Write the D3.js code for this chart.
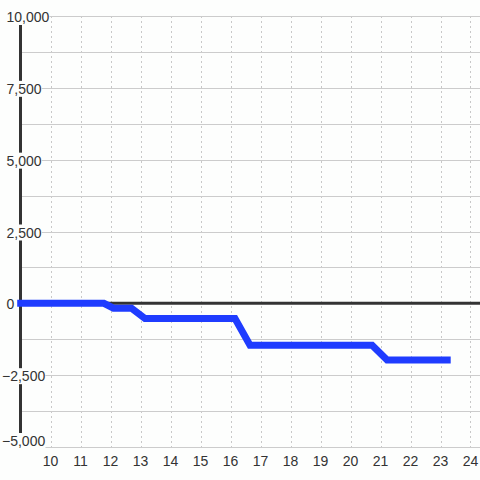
<!DOCTYPE html>
<html>
<head>
<meta charset="utf-8">
<script src="https://cdn.jsdelivr.net/npm/d3@7"></script>
<style>
  html, body { margin: 0; padding: 0; background: #fdfefd; }
  svg { display: block; font-family: "Liberation Sans", Arial, sans-serif; }
</style>
</head>
<body>
<svg id="chart" width="480" height="480"></svg>
<script>
// series
const xs = [8.89, 11.78, 12.1, 12.7, 13.15, 16.15, 16.65, 20.72, 21.22, 23.34];
const ys = [0, 0, -170, -170, -530, -530, -1460, -1460, -1970, -1970];

const xTicks = [10, 11, 12, 13, 14, 15, 16, 17, 18, 19, 20, 21, 22, 23, 24];
const yLabels = [-5000, -2500, 0, 2500, 5000, 7500, 10000];
const yGrid = [-5000, -3750, -2500, -1250, 0, 1250, 2500, 3750, 5000, 6250, 7500, 8750, 10000];

const width = 480, height = 480;
const bg = "#fdfefd";
const svg = d3.select("#chart");

const x = d3.scaleLinear().domain([9, 24.3]).range([20.5, 479.5]);
const y = d3.scaleLinear().domain([-5000, 10000]).range([447, 16]);

svg.append("rect").attr("width", width).attr("height", height).attr("fill", bg);

// vertical dotted grid
svg.append("g").selectAll("line").data(xTicks).join("line")
  .attr("x1", d => Math.round(x(d)) + 0.5).attr("x2", d => Math.round(x(d)) + 0.5)
  .attr("y1", y(10000)).attr("y2", y(-5000))
  .attr("stroke", "#c8c8c8").attr("stroke-width", 1)
  .attr("stroke-dasharray", "2,3");

// horizontal grid
svg.append("g").selectAll("line").data(yGrid).join("line")
  .attr("x1", 20).attr("x2", width)
  .attr("y1", d => Math.round(y(d)) + 0.5).attr("y2", d => Math.round(y(d)) + 0.5)
  .attr("stroke", "#cccccc").attr("stroke-width", 1);

// left axis bar
svg.append("line")
  .attr("x1", 20.5).attr("x2", 20.5)
  .attr("y1", y(10000)).attr("y2", y(-5000))
  .attr("stroke", "#333").attr("stroke-width", 3);

// zero line
svg.append("line")
  .attr("x1", 20).attr("x2", width)
  .attr("y1", y(0)).attr("y2", y(0))
  .attr("stroke", "#333").attr("stroke-width", 3);

// y labels with background boxes
const fmt = d3.format(",");
const yl = svg.append("g").selectAll("g").data(yLabels).join("g");
yl.append("text")
  .attr("x", d => d < 0 ? 2 : 6.5)
  .attr("y", d => Math.min(y(d) + 6, 446))
  .attr("font-size", 14)
  .attr("fill", "#333")
  .text(d => fmt(d));
yl.each(function () {
  const b = d3.select(this).select("text").node().getBBox();
  d3.select(this).insert("rect", "text")
    .attr("x", b.x).attr("y", b.y).attr("width", b.width).attr("height", b.height)
    .attr("fill", bg);
});

// x labels
svg.append("g").selectAll("text").data(xTicks).join("text")
  .attr("x", d => x(d))
  .attr("y", 466)
  .attr("text-anchor", "middle")
  .attr("font-size", 14)
  .attr("fill", "#333")
  .text(d => d);

// series line
const line = d3.line().x((d, i) => x(xs[i])).y(d => y(d));
svg.append("path")
  .datum(ys)
  .attr("d", line)
  .attr("fill", "none")
  .attr("stroke", "#1f3cff")
  .attr("stroke-width", 7)
  .attr("stroke-linejoin", "miter");
</script>
</body>
</html>
